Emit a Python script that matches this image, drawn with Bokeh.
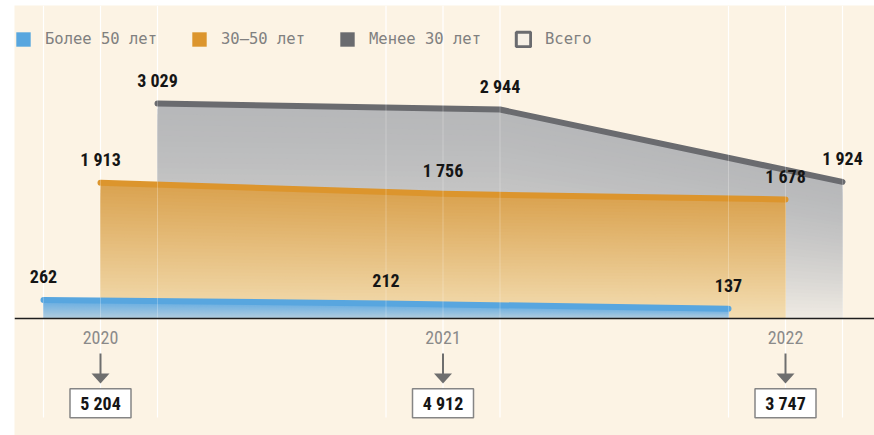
import numpy as np
from bokeh.plotting import figure
from bokeh.models import Range1d, Span, Legend, LegendItem
from bokeh.core.properties import value
from bokeh.embed import file_html
from bokeh.resources import INLINE

# ---------------- data ----------------
years = ["2020", "2021", "2022"]
over50 = [262, 212, 137]            # Более 50 лет
age30_50 = [1913, 1756, 1678]       # 30–50 лет
under30 = [3029, 2944, 1924]        # Менее 30 лет
totals = [5204, 4912, 3747]         # Всего
series_labels = ["Более 50 лет", "30–50 лет", "Менее 30 лет", "Всего"]

# ---------------- layout / style ----------------
CREAM = "#fcf3e4"
W, H = 874, 435
BORDER_L, BORDER_T = 14, 5
YEAR_PX = 342.5          # px between years
YEAR0_PAGE = 100         # page x of first year
BASE_PAGE = 318          # page y of baseline
SCALE = 0.07098          # px per unit
OFF = 57 / YEAR_PX       # stagger between series (in year units)


def px2x(page_x):
    return (page_x - YEAR0_PAGE) / YEAR_PX


def py2y(page_y):
    return (BASE_PAGE - page_y) / SCALE


DX = 1 / YEAR_PX
x_start, x_end = px2x(BORDER_L), px2x(W)
y_top, y_bot = py2y(BORDER_T), py2y(H)

p = figure(width=W, height=H, output_backend="svg", toolbar_location=None,
           x_range=Range1d(x_start, x_end), y_range=Range1d(y_bot, y_top),
           x_axis_location=None, y_axis_location=None,
           min_border_left=BORDER_L, min_border_right=0,
           min_border_top=BORDER_T, min_border_bottom=0)
p.grid.visible = False
p.outline_line_color = None
p.background_fill_color = CREAM
p.border_fill_color = "white"

idx = np.arange(len(years))
x_blue = idx - OFF
x_orange = idx.astype(float)
x_gray = idx + OFF

# vertical white grid lines
grid_x = list(x_blue) + list(x_orange) + list(x_gray)
p.segment(x0=grid_x, y0=[py2y(417)] * len(grid_x), x1=grid_x, y1=[y_top] * len(grid_x),
          line_color="white", line_width=1.2)


def mix(c1, c2, t):
    return "#%02x%02x%02x" % tuple(int(round(a + (b - a) * t)) for a, b in zip(c1, c2))


def gradient_area(xs, vals, top, bottom, n=40, gamma=1.0):
    for k in range(n):
        f = 1 - k / n
        t = (k / (n - 1)) ** gamma
        p.varea(x=list(xs), y1=[0] * len(vals), y2=[v * f for v in vals],
                fill_color=mix(top, bottom, t))


LINE_GRAY, LINE_ORANGE, LINE_BLUE = "#6a6b6f", "#dc952d", "#58a6df"

gradient_area(x_gray, under30, (183, 184, 186), (238, 234, 227), gamma=1.5)
p.line(list(x_gray), under30, line_color=LINE_GRAY, line_width=6,
       line_cap="round", line_join="round")

gradient_area(x_orange, age30_50, (218, 163, 80), (243, 221, 178))
p.line(list(x_orange), age30_50, line_color=LINE_ORANGE, line_width=6,
       line_cap="round", line_join="round")

gradient_area(x_blue, over50, (100, 172, 226), (178, 205, 222))
p.line(list(x_blue), over50, line_color=LINE_BLUE, line_width=6,
       line_cap="round", line_join="round")

# faint grid overlay
p.segment(x0=grid_x, y0=[0] * len(grid_x), x1=grid_x, y1=[y_top] * len(grid_x),
          line_color="white", line_width=1, line_alpha=0.25)

p.add_layout(Span(location=0, dimension="width", line_color="#1e1e1e", line_width=1.4))


def fmt(v):
    return "{:,}".format(v).replace(",", " ")


FONT = value("Roboto Condensed, DejaVu Sans Condensed, Liberation Sans Narrow, Roboto")
for xs, vals in ((x_blue, over50), (x_orange, age30_50), (x_gray, under30)):
    p.text(x=list(xs), y=vals, text=[fmt(v) for v in vals], text_align="center",
           text_baseline="alphabetic", y_offset=-23, text_font=FONT,
           text_font_style="bold", text_font_size="18px", text_color="#151515")

# year labels
p.text(x=list(x_orange), y=[py2y(336.5)] * 3, text=years, text_align="center",
       text_baseline="alphabetic", text_font=FONT, text_font_size="18px",
       text_color="#8a8a8a")

# arrows
p.segment(x0=list(x_orange), y0=[py2y(353)] * 3, x1=list(x_orange), y1=[py2y(375)] * 3,
          line_color="#6e6e6e", line_width=2)
p.patches(xs=[[x - 9 * DX, x + 9 * DX, x] for x in x_orange],
          ys=[[py2y(373), py2y(373), py2y(383)] for _ in x_orange],
          fill_color="#6e6e6e", line_color=None)

# totals boxes
p.rect(x=list(x_orange), y=[py2y(402.8)] * 3, width=61, height=29,
       width_units="screen", height_units="screen",
       fill_color="white", line_color="#858585", line_width=1.5)
p.text(x=list(x_orange), y=[py2y(403)] * 3, text=[fmt(v) for v in totals],
       text_align="center", text_baseline="alphabetic", text_font=FONT,
       text_font_style="bold", text_font_size="18px", text_color="#151515")

# legend proxies: drawn outside the visible frame, only their swatches show
proxy_styles = [
    dict(fill_color=LINE_BLUE, line_color=None),
    dict(fill_color=LINE_ORANGE, line_color=None),
    dict(fill_color=LINE_GRAY, line_color=None),
    dict(fill_color="#f6f0e6", line_color="#6a6b6f", line_width=3),
]
off_x = [x_end + 1, x_end + 2, x_end + 1]
off_y = [0, 0, 1]
items = []
for lab, st in zip(series_labels, proxy_styles):
    r = p.patch(x=off_x, y=off_y, **st)
    items.append(LegendItem(label=lab, renderers=[r]))

legend = Legend(items=items, orientation="horizontal", location=(0, 387),
                padding=0, margin=0, spacing=33, label_standoff=13,
                glyph_width=18, glyph_height=18, label_height=18, label_width=0,
                label_text_font="DejaVu Sans Mono", label_text_font_size="15.5px",
                label_text_color="#808080", background_fill_alpha=0,
                border_line_alpha=0)
p.add_layout(legend)

open("out.html", "w").write(file_html(p, INLINE))
